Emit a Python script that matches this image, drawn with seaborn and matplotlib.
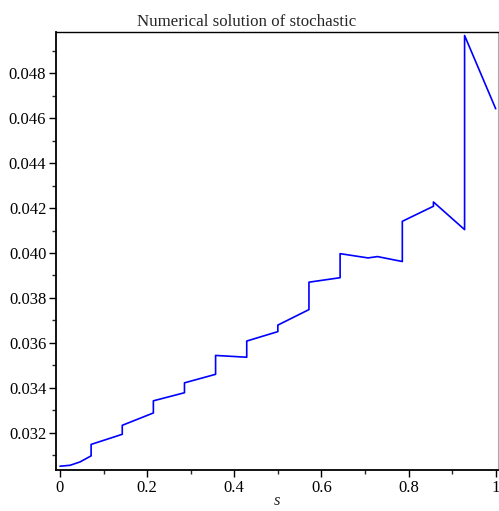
import numpy as np
import pandas as pd
import matplotlib
matplotlib.use("Agg")
import matplotlib.pyplot as plt
import seaborn as sns
from matplotlib.ticker import MultipleLocator, FuncFormatter

# data (jumps at multiples of 1/14)
s_values = [0.0, 0.023, 0.046, 0.0714, 0.0714, 0.1429, 0.1429, 0.2143, 0.2143,
            0.2857, 0.2857, 0.3571, 0.3571, 0.4286, 0.4286, 0.5, 0.5, 0.5714,
            0.5714, 0.6429, 0.6429, 0.7071, 0.7286, 0.7857, 0.7857, 0.8571,
            0.8571, 0.9286, 0.9286, 1.0]
y_values = [0.03051, 0.03055, 0.0307, 0.03097, 0.03148, 0.03193, 0.03233, 0.03288,
            0.03342, 0.03378, 0.03422, 0.0346, 0.03544, 0.03536, 0.03608, 0.0365,
            0.03679, 0.03748, 0.0387, 0.0389, 0.03997, 0.03978, 0.03984, 0.03962,
            0.04141, 0.04208, 0.04227, 0.04104, 0.04968, 0.04642]
x_ticks = [0, 0.2, 0.4, 0.6, 0.8, 1]
y_ticks = [0.032, 0.034, 0.036, 0.038, 0.040, 0.042, 0.044, 0.046, 0.048]
title = "Numerical solution of stochastic"

df = pd.DataFrame({"s": s_values, "y": y_values})

sns.set_style("ticks")
plt.rcParams["font.family"] = ["Liberation Serif", "DejaVu Serif"]

fig = plt.figure(figsize=(4.99, 5.11), dpi=100)
ax = fig.add_axes([0.1122, 0.0802, 0.8858, 0.8578])

sns.lineplot(data=df, x="s", y="y", sort=False, estimator=None,
             color="#0000ff", linewidth=1.2, ax=ax)

ax.set_xlim(-0.0092, 1.0053)
ax.set_ylim(0.03034, 0.04985)
ax.set_xticks(x_ticks)
ax.set_yticks(y_ticks)
ax.xaxis.set_minor_locator(MultipleLocator(0.1))
ax.yaxis.set_minor_locator(MultipleLocator(0.001))
ax.xaxis.set_major_formatter(FuncFormatter(lambda v, p: "%g" % v))
ax.yaxis.set_major_formatter(FuncFormatter(lambda v, p: "%.3f" % v))
ax.tick_params(which="major", direction="out", length=5, width=1.0,
               labelsize=12, pad=2, colors="black")
ax.tick_params(which="minor", direction="out", length=3, width=1.0)

for side in ["left", "bottom"]:
    ax.spines[side].set_linewidth(1.3)
    ax.spines[side].set_color("black")
ax.spines["top"].set_visible(True)
ax.spines["top"].set_linewidth(1.0)
ax.spines["top"].set_color("black")
ax.spines["right"].set_visible(True)
ax.spines["right"].set_linewidth(0.8)
ax.spines["right"].set_color("#aaaaaa")

ax.set_ylabel("")
ax.set_xlabel("s", style="italic", fontsize=12, labelpad=-2)
fig.text(0.495, 1 - 26 / 511, title, ha="center", va="baseline", fontsize=12.2)

fig.savefig("out.png", dpi=100)
